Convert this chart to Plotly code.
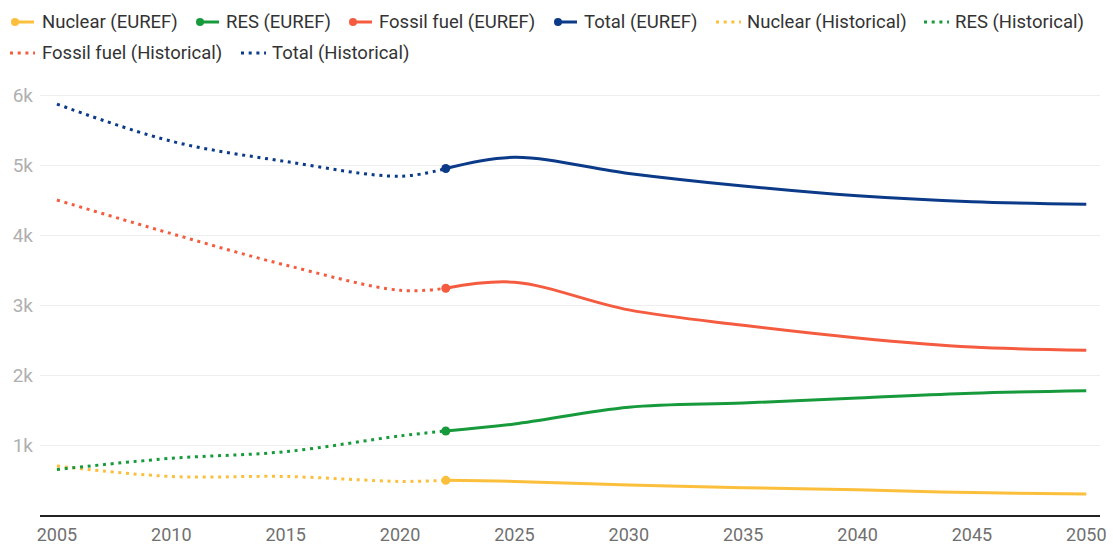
import plotly.graph_objects as go

# ---- data ----
years_hist = [2005, 2010, 2015, 2020, 2022]
nuclear_hist = [700, 550, 550, 480, 495]
res_hist = [650, 810, 905, 1130, 1200]
fossil_hist = [4500, 4020, 3570, 3210, 3240]
total_hist = [5870, 5340, 5050, 4840, 4950]

years_euref = [2022, 2025, 2030, 2035, 2040, 2045, 2050]
nuclear_euref = [495, 480, 430, 390, 360, 320, 300]
res_euref = [1200, 1300, 1540, 1600, 1670, 1740, 1775]
fossil_euref = [3240, 3325, 2930, 2710, 2530, 2400, 2355]
total_euref = [4950, 5110, 4880, 4700, 4560, 4475, 4440]

y_tickvals = [1000, 2000, 3000, 4000, 5000, 6000]
y_ticktext = ["1k", "2k", "3k", "4k", "5k", "6k"]
x_tickvals = [2005, 2010, 2015, 2020, 2025, 2030, 2035, 2040, 2045, 2050]

colors = {
    "Nuclear": "#fbbf3c",
    "RES": "#179a3b",
    "Fossil fuel": "#f45b3f",
    "Total": "#0b3a88",
}

# ---- layout constants ----
W, H = 1113, 544
L, R, T, B = 40, 13, 88, 29
PW, PH = W - L - R, H - T - B
DOT_DASH = "3px,4.7px"


def px2x(px):
    return (px - L) / PW


def py2y(py):
    return (H - B - py) / PH


fig = go.Figure()

euref = [("Nuclear", nuclear_euref), ("RES", res_euref),
         ("Fossil fuel", fossil_euref), ("Total", total_euref)]
hist = [("Nuclear", nuclear_hist), ("RES", res_hist),
        ("Fossil fuel", fossil_hist), ("Total", total_hist)]

for name, vals in euref:
    fig.add_trace(go.Scatter(
        x=years_euref, y=vals, name=f"{name} (EUREF)",
        mode="lines+markers", showlegend=False,
        line=dict(color=colors[name], width=3, shape="spline", smoothing=1.0),
        marker=dict(color=colors[name], size=[9] + [0] * (len(vals) - 1),
                    opacity=1, line=dict(width=0)),
    ))

for name, vals in hist:
    fig.add_trace(go.Scatter(
        x=years_hist, y=vals, name=f"{name} (Historical)",
        mode="lines", showlegend=False,
        line=dict(color=colors[name], width=3, shape="spline", smoothing=1.0,
                  dash=DOT_DASH),
    ))

# ---- custom legend (symbol start px, text start px, row y px) ----
legend_items = [
    ("Nuclear (EUREF)", "Nuclear", "solid", 12, 41, 22),
    ("RES (EUREF)", "RES", "solid", 197, 225, 22),
    ("Fossil fuel (EUREF)", "Fossil fuel", "solid", 350, 378, 22),
    ("Total (EUREF)", "Total", "solid", 555, 583, 22),
    ("Nuclear (Historical)", "Nuclear", "dot", 716, 746, 22),
    ("RES (Historical)", "RES", "dot", 924, 954, 22),
    ("Fossil fuel (Historical)", "Fossil fuel", "dot", 10, 41, 53),
    ("Total (Historical)", "Total", "dot", 241, 271, 53),
]

shapes = []
annotations = []
for label, key, style, sx, tx, ry in legend_items:
    c = colors[key]
    if style == "solid":
        shapes.append(dict(type="line", xref="paper", yref="paper",
                           x0=px2x(sx + 3), x1=px2x(sx + 22),
                           y0=py2y(ry), y1=py2y(ry),
                           line=dict(color=c, width=3)))
        shapes.append(dict(type="circle", xref="paper", yref="paper",
                           x0=px2x(sx - 1), x1=px2x(sx + 7),
                           y0=py2y(ry + 4), y1=py2y(ry - 4),
                           fillcolor=c, line=dict(width=0)))
    else:
        shapes.append(dict(type="line", xref="paper", yref="paper",
                           x0=px2x(sx), x1=px2x(sx + 25),
                           y0=py2y(ry), y1=py2y(ry),
                           line=dict(color=c, width=3, dash=DOT_DASH)))
    annotations.append(dict(text=label, xref="paper", yref="paper",
                            x=px2x(tx - 1), y=py2y(ry), xanchor="left",
                            yanchor="middle", showarrow=False,
                            font=dict(size=18.5, color="#333333",
                                      family="Roboto, sans-serif")))

fig.update_layout(
    width=W, height=H,
    paper_bgcolor="white", plot_bgcolor="white",
    font=dict(family="Roboto, sans-serif", size=18, color="#333333"),
    margin=dict(l=L, r=R, t=T, b=B, autoexpand=False),
    showlegend=False,
    shapes=shapes,
    annotations=annotations,
    xaxis=dict(range=[2004.26, 2050.6], tickvals=x_tickvals,
               showgrid=False, zeroline=False, automargin=False,
               showline=True, linecolor="#222222", linewidth=2,
               ticks="", ticklabelstandoff=2,
               tickfont=dict(size=18, color="#707070")),
    yaxis=dict(range=[0, 6100], tickvals=y_tickvals, ticktext=y_ticktext,
               showgrid=True, gridcolor="#eeeeee", gridwidth=1,
               zeroline=False, showline=False, ticks="", automargin=False,
               ticklabelstandoff=6,
               tickfont=dict(size=19, color="#b0b0b0")),
)

fig.write_html("out.html",
               config={"displayModeBar": False},
               post_script="document.body.style.margin='0';"
                           "document.body.style.overflow='hidden';")
